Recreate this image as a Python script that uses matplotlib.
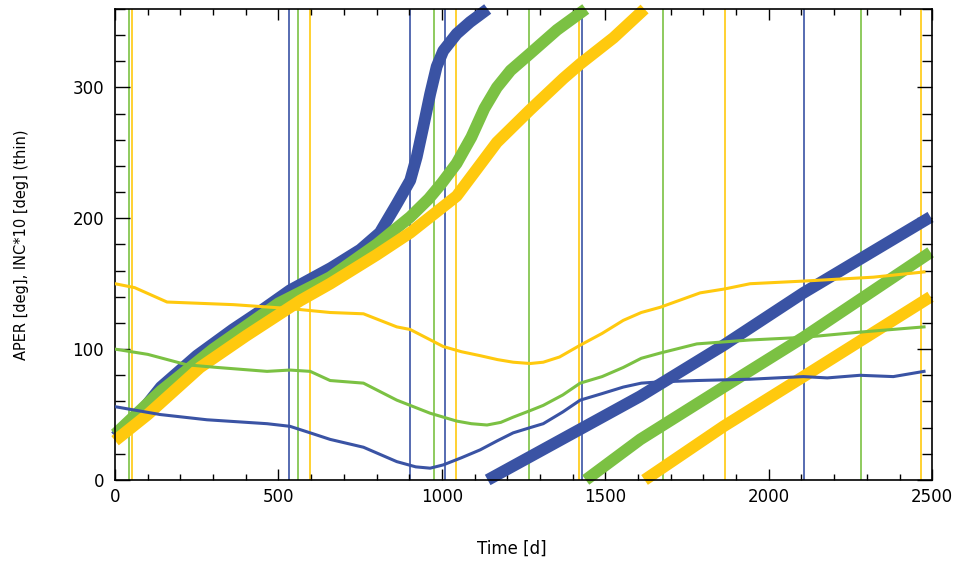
import numpy as np
import matplotlib
matplotlib.use('Agg')
import matplotlib.pyplot as plt

blue = '#3a53a4'
green = '#7bc143'
yellow = '#ffc90e'

#APER (unwrapped, deg)
t_aper_b = [0, 60, 140, 250, 360, 450, 535, 660, 750, 810, 862, 903, 923, 943, 964, 984, 1004, 1045, 1086, 1140, 1432, 1607, 1862, 2106, 2495]
aper_b = [33, 46, 71, 95, 115, 130, 145, 162, 176, 189, 211, 229, 247, 270, 295, 316, 328, 341, 350, 360, 400, 424, 463, 503, 561]

t_aper_g = [0, 140, 300, 500, 658, 800, 903, 960, 1000, 1045, 1090, 1130, 1168, 1210, 1270, 1352, 1440, 1607, 1862, 2106, 2495]
aper_g = [35, 68, 100, 135, 155, 180, 201, 215, 227, 242, 262, 284, 300, 313, 326, 344, 360, 391, 431, 469, 534]

t_aper_y = [0, 100, 260, 400, 566, 658, 800, 903, 1045, 1168, 1270, 1372, 1423, 1525, 1620, 1862, 2106, 2495]
aper_y = [30, 50, 86, 110, 137, 150, 172, 189, 217, 258, 283, 307, 318, 338, 360, 401, 439, 500]

#INC*10 (deg) thin curves
t_inc_b = [0, 138, 281, 465, 535, 597, 658, 760, 862, 920, 964, 1004, 1060, 1117, 1170, 1218, 1270, 1310, 1370, 1423, 1490, 1555, 1610, 1668, 1780, 1943, 2106, 2179, 2279, 2381, 2475]
inc_b = [56, 50, 46, 43, 41, 36, 31, 25, 14, 10, 9, 11.5, 17, 23, 30, 36, 40, 43, 52, 61, 66, 71, 74, 75, 76, 77, 79, 78, 80, 79, 83]

t_inc_g = [0, 100, 220, 312, 465, 535, 597, 658, 760, 862, 964, 1045, 1090, 1138, 1180, 1218, 1270, 1310, 1370, 1423, 1490, 1555, 1610, 1668, 1780, 1943, 2106, 2279, 2475]
inc_g = [100, 96, 88, 86, 83, 84, 83, 76, 74, 61, 51, 45, 43, 42, 44, 48, 53, 57, 65, 74, 79, 86, 93, 97, 104, 107, 109, 113, 117]

t_inc_y = [0, 60, 159, 362, 535, 658, 760, 862, 903, 1004, 1060, 1117, 1170, 1218, 1270, 1310, 1360, 1423, 1490, 1555, 1610, 1668, 1790, 1865, 1943, 2106, 2320, 2475]
inc_y = [150, 147, 136, 134, 131, 128, 127, 117, 115, 102, 98, 95, 92, 90, 89, 90, 94, 103, 112, 122, 128, 132, 143, 146, 150, 152, 155, 159]

#event times (vertical lines)
ev_b = [533, 903, 1008, 1430, 2109]
ev_g = [44, 559, 976, 1266, 1675, 2282]
ev_y = [51, 597, 1043, 1418, 1865, 2466]


def wrap(t, v):
  ts, vs = [t[0]], [v[0] % 360]
  for i in range(1, len(t)):
    k0, k1 = v[i-1] // 360, v[i] // 360
    if k1 > k0:
      tc = t[i-1] + (t[i]-t[i-1])*(k1*360 - v[i-1])/(v[i]-v[i-1])
      ts += [tc, np.nan, tc]
      vs += [360, np.nan, 0]
    ts.append(t[i])
    vs.append(v[i] % 360)
  return np.array(ts), np.array(vs)


plt.rcParams['font.family'] = ['DejaVu Sans']
fig = plt.figure(figsize=(9.67, 5.62), dpi=100)
ax = fig.add_axes([0.119, 0.146, 0.845, 0.838])

for ev, c in [(ev_b, blue), (ev_g, green), (ev_y, yellow)]:
  for x in ev:
    ax.axvline(x, color=c, lw=1.2, zorder=1)

for t, v, c in [(t_aper_b, aper_b, blue), (t_aper_g, aper_g, green), (t_aper_y, aper_y, yellow)]:
  tt, vv = wrap(t, v)
  ax.plot(tt, vv, color=c, lw=8.5, solid_capstyle='butt', solid_joinstyle='round', clip_on=False, zorder=2)

for t, v, c in [(t_inc_b, inc_b, blue), (t_inc_g, inc_g, green), (t_inc_y, inc_y, yellow)]:
  ax.plot(t, v, color=c, lw=2.2, zorder=3)

ax.set_xlim(0, 2500)
ax.set_ylim(0, 360)
ax.set_xticks([0, 500, 1000, 1500, 2000, 2500])
ax.set_yticks([0, 100, 200, 300])
ax.set_xticks(np.arange(0, 2501, 100), minor=True)
ax.set_yticks(np.arange(0, 361, 20), minor=True)
ax.tick_params(axis='x', which='major', direction='in', length=8, width=1, top=True, labelsize=12, pad=6)
ax.tick_params(axis='x', which='minor', direction='in', length=4, width=1, top=True)
ax.tick_params(axis='y', which='major', direction='in', length=11, width=1, right=True, labelsize=12, pad=8)
ax.tick_params(axis='y', which='minor', direction='in', length=7, width=1, right=True)
for s in ax.spines.values():
  s.set_linewidth(1.2)

ax.set_xlabel('Time [d]', fontsize=12)
ax.xaxis.set_label_coords(0.486, -0.126)
ax.set_ylabel('APER [deg], INC*10 [deg] (thin)', fontsize=10.5)
ax.yaxis.set_label_coords(-0.105, 0.5)

plt.savefig('out.png', dpi=100)
